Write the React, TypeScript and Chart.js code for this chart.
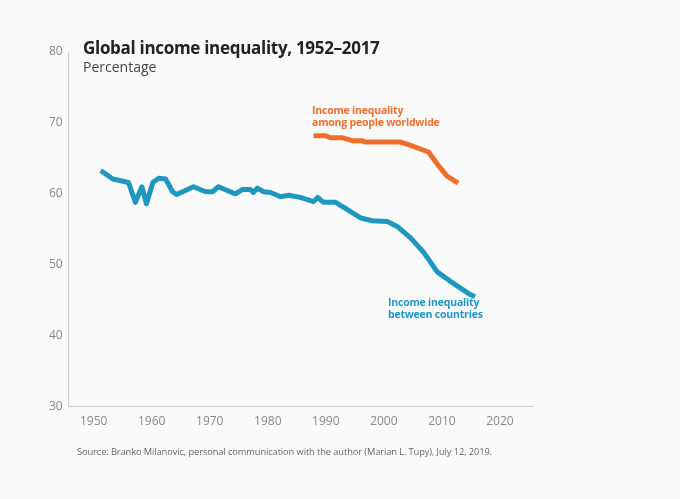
import React, { useEffect, useRef } from "react";
import { Chart, registerables } from "chart.js";
Chart.register(...registerables);

const betweenYears = [1951.2,1953.3,1956,1957.2,1958.3,1959.1,1960.2,1961.2,1962.4,1963.6,1964.3,1967.2,1969.3,1970.5,1971.5,1974.4,1975.6,1977,1977.5,1978.2,1979.3,1980.5,1982.2,1983.6,1985.6,1987.9,1988.6,1989.6,1991.7,1996,1998,2000.6,2002.3,2004.6,2006.8,2007.5,2009.2,2011.4,2014.9,2015.7];
const betweenValues = [63.3,62.1,61.6,58.8,61.0,58.6,61.6,62.2,62.1,60.3,59.9,61.0,60.3,60.3,61.0,60.0,60.6,60.6,60.2,60.8,60.3,60.2,59.6,59.8,59.5,58.9,59.5,58.8,58.8,56.6,56.2,56.1,55.4,53.8,51.8,51.0,49.0,47.7,45.8,45.5];
const amongYears = [1987.9,1990,1990.8,1992.9,1994.6,1996.3,1996.8,2002.8,2004,2007.7,2009.2,2010.9,2012.8];
const amongValues = [68.2,68.2,67.9,67.9,67.5,67.5,67.3,67.3,67.0,65.9,64.2,62.5,61.5];
const xTicks = [1950,1960,1970,1980,1990,2000,2010,2020];
const yTicks = [30,40,50,60,70,80];

const font = "'Open Sans', sans-serif";

export default function App() {
  const ref = useRef<HTMLCanvasElement>(null);
  useEffect(() => {
    const chart = new Chart(ref.current!, {
      type: "line",
      data: {
        datasets: [
          { data: betweenYears.map((x, i) => ({ x, y: betweenValues[i] })), borderColor: "#1f97bf", borderWidth: 5, pointRadius: 0, tension: 0, borderJoinStyle: "round" },
          { data: amongYears.map((x, i) => ({ x, y: amongValues[i] })), borderColor: "#ee6f2b", borderWidth: 5, pointRadius: 0, tension: 0, borderJoinStyle: "round" },
        ],
      },
      options: {
        animation: false,
        responsive: false,
        layout: { padding: { top: 52, left: 43, right: 147, bottom: 62 } },
        plugins: { legend: { display: false }, tooltip: { enabled: false } },
        scales: {
          x: {
            type: "linear", min: 1945.7, max: 2025.7,
            afterBuildTicks: (a: any) => { a.ticks = xTicks.map((v) => ({ value: v })); },
            grid: { display: false, drawTicks: false },
            border: { color: "#cccccc" },
            ticks: { color: "#888", font: { family: font, size: 12 }, padding: 8, callback: (v: any) => String(v) },
          },
          y: {
            min: 30, max: 80,
            afterBuildTicks: (a: any) => { a.ticks = yTicks.map((v) => ({ value: v })); },
            grid: { display: false, drawTicks: false },
            border: { color: "#cccccc" },
            ticks: { color: "#888", font: { family: font, size: 12 }, padding: 6 },
          },
        },
      },
    });
    return () => chart.destroy();
  }, []);
  return (
    <div style={{ position: "absolute", left: 0, top: 0, width: 680, height: 499, background: "#fafafa", fontFamily: font }}>
      <canvas ref={ref} width={680} height={499} />
      <div style={{ position: "absolute", left: 83, top: 36, fontSize: 17, fontWeight: 700, color: "#222", letterSpacing: -0.3 }}>Global income inequality, 1952–2017</div>
      <div style={{ position: "absolute", left: 83, top: 57, fontSize: 14, color: "#444" }}>Percentage</div>
      <div style={{ position: "absolute", left: 312, top: 104, fontSize: 10.5, fontWeight: 700, color: "#ee6f2b", lineHeight: "12px", letterSpacing: -0.2 }}>Income inequality<br />among people worldwide</div>
      <div style={{ position: "absolute", left: 388, top: 296, fontSize: 10.5, fontWeight: 700, color: "#1f97bf", lineHeight: "12px", letterSpacing: -0.2 }}>Income inequality<br />between countries</div>
      <div style={{ position: "absolute", left: 77, top: 445, fontSize: 9.3, color: "#666", letterSpacing: -0.1 }}>Source: Branko Milanovic, personal communication with the author (Marian L. Tupy), July 12, 2019.</div>
    </div>
  );
}
